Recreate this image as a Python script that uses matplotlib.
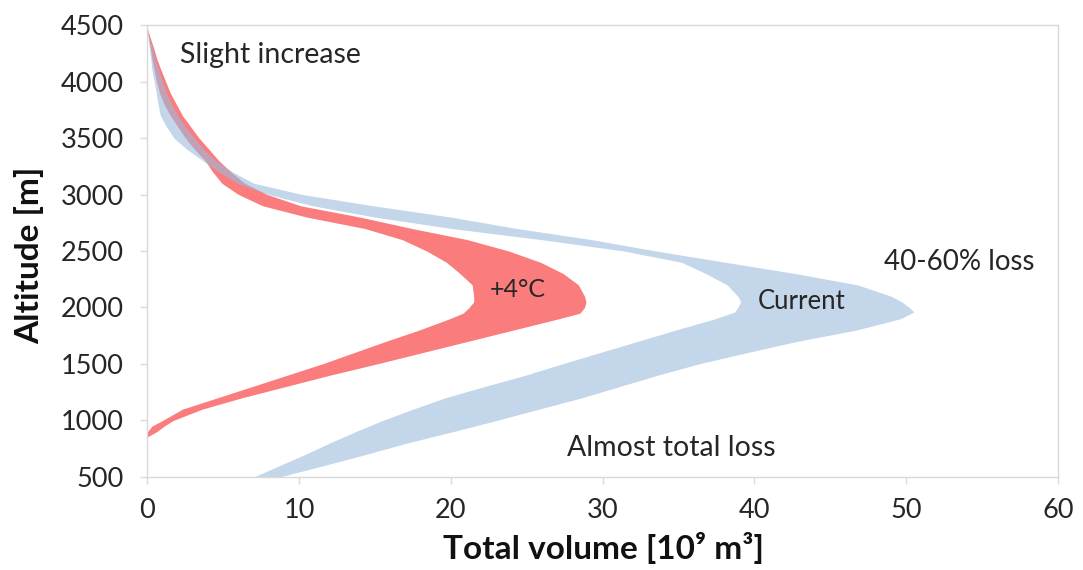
import matplotlib
matplotlib.use("Agg")
import matplotlib.pyplot as plt

plt.rcParams['font.family'] = ['Lato', 'DejaVu Sans']

# +4°C scenario band (red): altitude [m] vs lower / upper volume edge [10^9 m3]
warm_alt = [855, 900, 950, 1000, 1100, 1200, 1300, 1400, 1500, 1600, 1700, 1800,
            1900, 1950, 2000, 2050, 2100, 2200, 2300, 2400, 2500, 2600, 2700, 2800,
            2900, 3000, 3100, 3200, 3300, 3400, 3500, 3600, 3700, 3800, 3900, 4000,
            4100, 4200, 4300, 4400, 4470]
warm_lo = [0, 0, 0.3, 1.0, 2.3, 4.6, 6.9, 9.2, 11.5, 13.6, 15.7, 17.9,
           19.9, 20.8, 21.2, 21.5, 21.5, 21.4, 20.6, 19.7, 18.4, 16.8, 14.3, 10.5,
           7.6, 6.0, 4.9, 4.3, 3.8, 3.1, 2.5, 2.0, 1.5, 1.1, 0.8, 0.6,
           0.45, 0.3, 0.18, 0.05, 0]
warm_hi = [0, 0.6, 1.1, 1.7, 3.6, 6.2, 9.1, 12.0, 15.1, 18.1, 21.1, 24.1,
           27.1, 28.5, 28.8, 28.9, 28.8, 28.4, 27.4, 25.9, 23.8, 21.1, 17.4, 14.0,
           10.1, 7.9, 6.4, 5.5, 4.7, 4.05, 3.4, 2.85, 2.3, 1.9, 1.5, 1.2,
           0.9, 0.62, 0.4, 0.15, 0]

# current glaciers band (blue)
cur_alt = [500, 600, 700, 800, 900, 1000, 1100, 1200, 1300, 1400, 1500, 1600,
           1700, 1800, 1900, 1960, 2000, 2050, 2100, 2200, 2300, 2400, 2500, 2600,
           2700, 2800, 2900, 3000, 3100, 3200, 3300, 3400, 3500, 3600, 3700, 3800,
           3900, 4000, 4100, 4200, 4300, 4400, 4470]
cur_lo = [7.0, 8.7, 10.4, 12.0, 13.7, 15.5, 17.5, 19.6, 22.2, 24.9, 27.3, 29.8,
          32.3, 34.8, 37.4, 38.7, 38.9, 39.1, 38.9, 38.2, 36.8, 35.2, 31.4, 26.0,
          20.0, 15.0, 10.9, 8.0, 5.9, 4.7, 3.65, 2.6, 1.75, 1.25, 0.85, 0.7,
          0.58, 0.45, 0.3, 0.22, 0.13, 0.05, 0]
cur_hi = [8.7, 11.6, 14.4, 17.1, 20.1, 23.0, 25.8, 28.6, 31.1, 33.6, 36.3, 39.5,
          42.8, 46.7, 49.6, 50.5, 50.2, 49.7, 49.0, 46.8, 42.7, 38.1, 33.5, 29.3,
          24.3, 20.0, 14.9, 10.2, 7.0, 5.6, 4.5, 3.7, 3.1, 2.5, 2.0, 1.6,
          1.25, 1.0, 0.75, 0.5, 0.3, 0.1, 0]

# text, x, altitude, alignment, size
labels = [
    ("Slight increase", 2.15, 4234, "left", 20.5),
    ("+4°C", 24.4, 2155, "center", 18),
    ("Current", 43.1, 2051, "center", 18.5),
    ("40-60% loss", 53.5, 2403, "center", 20),
    ("Almost total loss", 34.5, 757, "center", 20.5),
]

fig = plt.figure(figsize=(10.83, 5.70), dpi=100)
ax = fig.add_axes([0.1361, 0.1632, 0.8408, 0.7929])

ax.fill_betweenx(warm_alt, warm_lo, warm_hi, color='#fa7c7c', linewidth=0)
# blue drawn translucent on top so the overlap turns mauve as in the original
ax.fill_betweenx(cur_alt, cur_lo, cur_hi, color='#9bbbdd', alpha=0.6, linewidth=0)

for txt, x, y, ha, fs in labels:
    ax.text(x, y, txt, ha=ha, va='center', fontsize=fs, color='#262626')

ax.set_xlim(0, 60)
ax.set_ylim(500, 4500)
ax.set_xticks(range(0, 61, 10))
ax.set_yticks(range(500, 4501, 500))

for s in ax.spines.values():
    s.set_color('#d9d9d9')
    s.set_linewidth(1)
ax.tick_params(axis='both', colors='#d9d9d9', length=5, width=1,
               labelsize=19.5, labelcolor='#262626')
ax.tick_params(axis='y', pad=12)
ax.tick_params(axis='x', pad=10)

fig.text(0.0268, 0.5526, "Altitude [m]", rotation=90, ha='center', va='center',
         fontsize=24, fontweight='bold', color='#111111')
fig.text(0.5568, 0.0386, "Total volume [10⁹ m³]", ha='center', va='center',
         fontsize=24, fontweight='bold', color='#111111')

fig.savefig("out.png", dpi=100)
